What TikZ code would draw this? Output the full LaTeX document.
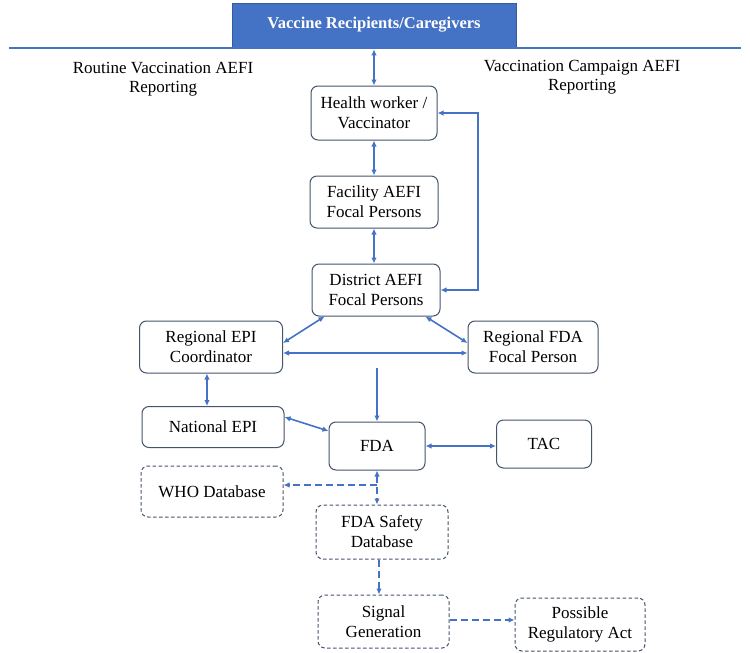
\documentclass[tikz,border=0pt]{standalone}
\usepackage{fontspec}
\setmainfont{Liberation Serif}
\usetikzlibrary{arrows.meta}
\definecolor{ablue}{HTML}{4472C4}
\definecolor{bordc}{HTML}{44546A}
\tikzset{
  tip/.tip={Latex[length=6pt,width=5.5pt]},
  box/.style={draw=bordc, line width=1pt, rounded corners=7pt, align=center, inner sep=2pt,
    font=\fontsize{17}{20}\selectfont, fill=white},
  dbox/.style={box, dash pattern=on 3.5pt off 2.5pt},
  conn/.style={draw=ablue, line width=1.6pt, -tip},
  bconn/.style={conn, tip-tip},
  dconn/.style={conn, dash pattern=on 7pt off 4pt},
  lbl/.style={align=center, font=\fontsize{17}{18.5}\selectfont}
}
\begin{document}
\begin{tikzpicture}[x=1pt,y=-1pt]
\useasboundingbox (0,0) rectangle (750,653);
% top banner
\node[fill=ablue, draw=ablue!80!black, line width=0.6pt, minimum width=284pt, minimum height=44pt, inner sep=0pt,
  text=white, font=\fontsize{16.5}{18}\selectfont\bfseries] (top) at (374,25) {Vaccine Recipients/Caregivers};
\coordinate (hl) at (9,48);
\coordinate (hr) at (741,48);
\draw[ablue, line width=1.6pt] (hl) -- (hr);
\node[lbl] (routine) at (163,79) {Routine Vaccination AEFI\\Reporting};
\node[lbl] (campaign) at (582,77) {Vaccination Campaign AEFI\\Reporting};
% boxes
\node[box, minimum width=126pt, minimum height=54pt] (hw) at (374,113) {Health worker /\\Vaccinator};
\node[box, minimum width=128pt, minimum height=52pt] (fac) at (374,202) {Facility AEFI\\Focal Persons};
\node[box, minimum width=128pt, minimum height=52pt] (dist) at (376,290) {District AEFI\\Focal Persons};
\node[box, minimum width=143pt, minimum height=52pt] (repi) at (211,347) {Regional EPI\\Coordinator};
\node[box, minimum width=130pt, minimum height=52pt] (rfda) at (533,347) {Regional FDA\\Focal Person};
\node[box, minimum width=142pt, minimum height=41pt] (nepi) at (213,427) {National EPI};
\node[box, minimum width=96pt, minimum height=48pt] (fda) at (377,446) {FDA};
\node[box, minimum width=95pt, minimum height=48pt] (tac) at (544,444) {TAC};
\node[dbox, minimum width=142pt, minimum height=51pt] (who) at (212,491.5) {WHO Database};
\node[dbox, minimum width=132pt, minimum height=54pt] (safe) at (382,532) {FDA Safety\\Database};
\node[dbox, minimum width=131pt, minimum height=53pt] (sig) at (383.5,621.5) {Signal\\Generation};
\node[dbox, minimum width=130pt, minimum height=53pt] (reg) at (580,624.5) {Possible\\Regulatory Act};
% connectors
\draw[bconn] ([yshift=-2pt]top.south -| hw.north) -- (hw.north);
\draw[bconn] (hw.south) -- (fac.north);
\draw[bconn] (fac.south) -- (fac.south |- dist.north);
\coordinate (fb) at (478,200);
\draw[bconn] (hw.east) -- (hw.east -| fb) |- (dist.east);
\draw[bconn] ([xshift=13pt]dist.south west) -- ([yshift=4pt]repi.east);
\draw[bconn] ([xshift=-15pt]dist.south east) -- ([yshift=4pt]rfda.west);
\draw[bconn] ([yshift=-6pt]repi.east) -- ([yshift=-6pt]rfda.west);
\coordinate (dn) at (377,368);
\draw[conn] (dn) -- (fda.north);
\draw[bconn] ([xshift=-4pt]repi.south) -- ([xshift=-4pt]repi.south |- nepi.north);
\draw[bconn] ([yshift=10pt]nepi.east) -- ([yshift=15pt]fda.west);
\draw[bconn] (fda.east) -- (fda.east -| tac.west);
\draw[dconn, tip-tip] (fda.south) -- (fda.south |- safe.north);
\coordinate (j) at (377,485);
\draw[dconn] (j) -- (j -| who.east);
\draw[dconn] ([xshift=-3pt]safe.south) -- ([xshift=-3pt]safe.south |- sig.north);
\draw[dconn] ([yshift=1.5pt]sig.east) -- ([yshift=1.5pt]sig.east -| reg.west);
\end{tikzpicture}
\end{document}
